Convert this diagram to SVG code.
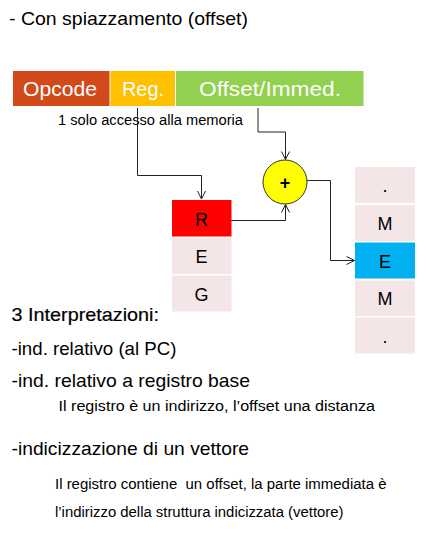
<svg xmlns="http://www.w3.org/2000/svg" width="426" height="542" viewBox="0 0 426 542">
<style>
text{font-family:"Liberation Sans",Arial,sans-serif;fill:#000}
.big{font-size:19px}
.sm{font-size:14px}
.hdr{font-size:21px;fill:#fff;text-anchor:middle}
.cell{font-size:18px;text-anchor:middle}
.pink{fill:#f4e6e6}
.wire{fill:none;stroke:#222;stroke-width:1}
</style>
<defs>
<marker id="arr" viewBox="0 0 10 10" refX="9" refY="5" markerWidth="10" markerHeight="10" markerUnits="userSpaceOnUse" orient="auto">
<path d="M1,1 L9,5 L1,9" fill="none" stroke="#222" stroke-width="1"/>
</marker>
</defs>
<rect width="426" height="542" fill="#fff"/>
<text class="big" x="9" y="25" textLength="239" lengthAdjust="spacingAndGlyphs">- Con spiazzamento (offset)</text>

<g id="instr">
<g id="opcode"><rect x="13" y="71" width="96.5" height="35" fill="#d24a1a"/><text class="hdr" x="60" y="96" textLength="74" lengthAdjust="spacingAndGlyphs">Opcode</text></g>
<g id="reg"><rect x="110.5" y="71" width="64.5" height="35" fill="#ffc000"/><text class="hdr" x="143" y="96" textLength="42" lengthAdjust="spacingAndGlyphs">Reg.</text></g>
<g id="offset"><rect x="176" y="71" width="187.5" height="35" fill="#92d050"/><text class="hdr" x="270" y="96" textLength="142" lengthAdjust="spacingAndGlyphs">Offset/Immed.</text></g>
</g>
<text class="sm" x="58" y="125" textLength="185" lengthAdjust="spacingAndGlyphs">1 solo accesso alla memoria</text>

<g id="connectors">
<path class="wire" d="M137.5,108 V175.5 H201.5 V199" marker-end="url(#arr)"/>
<path class="wire" d="M258,108 V132 H285.5 V159.5" marker-end="url(#arr)"/>
<path class="wire" d="M216.5,220.5 H285.5 V204.5" marker-end="url(#arr)"/>
<path class="wire" d="M307,180.5 H330.5 V260.5 H354.5" marker-end="url(#arr)"/>
</g>

<g id="adder"><circle cx="285" cy="182" r="22" fill="#ffff00" stroke="#333" stroke-width="1"/><text x="285" y="188.5" font-size="18" font-weight="bold" text-anchor="middle">+</text></g>

<g id="register">
<g id="reg-R"><rect x="172" y="200" width="59.5" height="36.5" fill="#ff0000"/><text class="cell" x="201.5" y="225.5">R</text></g>
<g id="reg-E"><rect class="pink" x="172" y="238" width="59.5" height="36"/><text class="cell" x="201.5" y="263">E</text></g>
<g id="reg-G"><rect class="pink" x="172" y="275.5" width="59.5" height="36"/><text class="cell" x="201.5" y="300.5">G</text></g>
</g>

<g id="memory">
<g id="mem-1"><rect class="pink" x="355" y="167" width="60" height="36"/><text class="cell" x="385" y="192">.</text></g>
<g id="mem-2"><rect class="pink" x="355" y="205" width="60" height="36"/><text class="cell" x="385" y="230">M</text></g>
<g id="mem-3"><rect x="355" y="242.5" width="60" height="36" fill="#00b0f0"/><text class="cell" x="385" y="267.5">E</text></g>
<g id="mem-4"><rect class="pink" x="355" y="280.5" width="60" height="35.5"/><text class="cell" x="385" y="305">M</text></g>
<g id="mem-5"><rect class="pink" x="355" y="317.5" width="60" height="36"/><text class="cell" x="385" y="342.5">.</text></g>
</g>

<text class="big" x="11.5" y="321" textLength="147.5" lengthAdjust="spacingAndGlyphs" stroke="#000" stroke-width="0.2">3 Interpretazioni:</text>
<text class="big" x="11.5" y="354.5" textLength="165" lengthAdjust="spacingAndGlyphs">-ind. relativo (al PC)</text>
<text class="big" x="11.5" y="387" textLength="238.5" lengthAdjust="spacingAndGlyphs">-ind. relativo a registro base</text>
<text class="sm" x="58.5" y="411" textLength="316.5" lengthAdjust="spacingAndGlyphs">Il registro è un indirizzo, l’offset una distanza</text>
<text class="big" x="11.5" y="455" textLength="237.5" lengthAdjust="spacingAndGlyphs">-indicizzazione di un vettore</text>
<text class="sm" x="55" y="489" textLength="331.5" lengthAdjust="spacingAndGlyphs" xml:space="preserve">Il registro contiene  un offset, la parte immediata è</text>
<text class="sm" x="55" y="516.5" textLength="288.5" lengthAdjust="spacingAndGlyphs">l’indirizzo della struttura indicizzata (vettore)</text>
</svg>
